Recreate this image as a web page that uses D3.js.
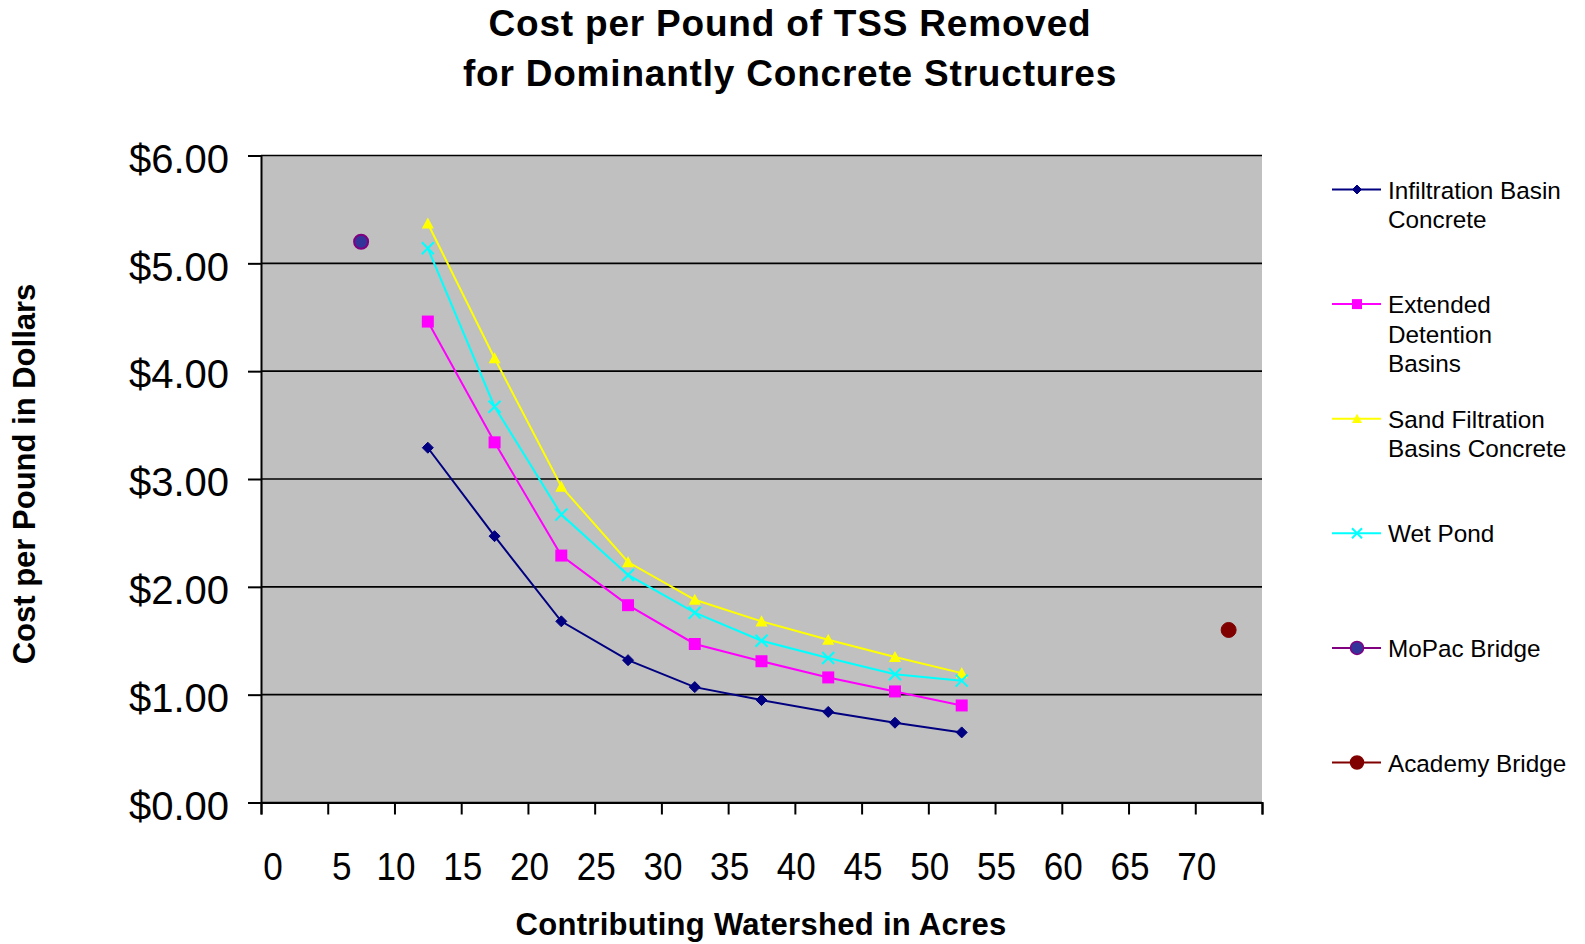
<!DOCTYPE html>
<html>
<head>
<meta charset="utf-8">
<script src="https://cdn.jsdelivr.net/npm/d3@7"></script>
<style>
  html, body { margin: 0; padding: 0; background: #ffffff; }
  svg { display: block; font-family: "Liberation Sans", Arial, sans-serif; }
</style>
</head>
<body>
<svg id="chart" width="1585" height="944"></svg>
<script>
// ---------------- data ----------------
const titleLines = ["Cost per Pound of TSS Removed", "for Dominantly Concrete Structures"];
const xTitle = "Contributing Watershed in Acres";
const yTitle = "Cost per Pound in Dollars";

const acres = [12.5, 17.5, 22.5, 27.5, 32.5, 37.5, 42.5, 47.5, 52.5];
const infiltrationBasin = [3.29, 2.47, 1.68, 1.32, 1.07, 0.95, 0.84, 0.74, 0.65];
const extendedDetention = [4.46, 3.34, 2.29, 1.83, 1.47, 1.31, 1.16, 1.03, 0.90];
const sandFiltration   = [5.37, 4.12, 2.93, 2.23, 1.88, 1.68, 1.51, 1.35, 1.20];
const wetPond          = [5.14, 3.67, 2.67, 2.11, 1.76, 1.50, 1.34, 1.19, 1.13];

const mopacAcres = [7.5];
const mopacCost = [5.20];
const academyAcres = [72.5];
const academyCost = [1.60];

const xTickValues = [0, 5, 10, 15, 20, 25, 30, 35, 40, 45, 50, 55, 60, 65, 70, 75];
const xTickLabels = ["0", "5", "10", "15", "20", "25", "30", "35", "40", "45", "50", "55", "60", "65", "70"];
const yTickValues = [0, 1, 2, 3, 4, 5, 6];

const seriesNames = ["Infiltration Basin|Concrete", "Extended|Detention|Basins", "Sand Filtration|Basins Concrete",
                     "Wet Pond", "MoPac Bridge", "Academy Bridge"];

// ---------------- layout ----------------
const svg = d3.select("#chart");
const plot = { left: 261, right: 1262, top: 155.5, bottom: 802.5 };

const x = d3.scaleLinear().domain([0, 75]).range([plot.left, plot.right]);
const y = d3.scaleLinear().domain([0, 6]).range([plot.bottom, plot.top]);

// plot background
svg.append("rect")
  .attr("x", plot.left).attr("y", plot.top)
  .attr("width", plot.right - plot.left).attr("height", plot.bottom - plot.top)
  .attr("fill", "#c0c0c0");

// gridlines
svg.append("g").selectAll("line").data(yTickValues).join("line")
  .attr("x1", plot.left).attr("x2", plot.right)
  .attr("y1", d => y(d)).attr("y2", d => y(d))
  .attr("stroke", "#000").attr("stroke-width", 1.6);

// y axis
const yAxis = d3.axisLeft(y).tickValues(yTickValues).tickSize(13).tickPadding(19)
  .tickFormat(d => "$" + d3.format(".2f")(d));
const yg = svg.append("g").attr("transform", `translate(${plot.left},0)`).call(yAxis);
yg.select(".domain").attr("stroke", "#000").attr("stroke-width", 2);
yg.selectAll(".tick line").attr("stroke", "#000").attr("stroke-width", 2);
yg.selectAll(".tick text")
  .attr("font-family", "'Liberation Sans', Arial, sans-serif")
  .attr("font-size", 40).attr("fill", "#000")
  .attr("dy", "0.42em");

// x axis
const xAxis = d3.axisBottom(x).tickValues(xTickValues).tickSize(12).tickFormat("");
const xg = svg.append("g").attr("transform", `translate(0,${plot.bottom})`).call(xAxis);
xg.select(".domain").attr("stroke", "#000").attr("stroke-width", 2);
xg.selectAll(".tick line").attr("stroke", "#000").attr("stroke-width", 2);

// x tick labels (first two are nudged right as in the original)
svg.append("g").selectAll("text").data(xTickLabels).join("text")
  .attr("transform", (d, i) => {
    const v = xTickValues[i];
    const dx = v === 0 ? 12 : (v === 5 ? 14 : 1.5);
    return `translate(${x(v) + dx},880) scale(0.9,1)`;
  })
  .attr("text-anchor", "middle")
  .attr("font-size", 39).attr("fill", "#000")
  .text(d => d);

// titles
svg.append("g").selectAll("text").data(titleLines).join("text")
  .attr("x", 790).attr("y", (d, i) => 36 + i * 50)
  .attr("text-anchor", "middle")
  .attr("font-size", 37).attr("font-weight", "bold").attr("letter-spacing", 0.8)
  .text(d => d);

svg.append("text")
  .attr("x", 761).attr("y", 935)
  .attr("text-anchor", "middle")
  .attr("font-size", 31).attr("font-weight", "bold").attr("letter-spacing", 0.3)
  .text(xTitle);

svg.append("text")
  .attr("transform", "translate(35,474) rotate(-90)")
  .attr("text-anchor", "middle")
  .attr("font-size", 31).attr("font-weight", "bold")
  .text(yTitle);

// ---------------- marker shapes ----------------
function diamondPath(s) { const h = s / 2; return `M0,${-h}L${h},0L0,${h}L${-h},0Z`; }
function squarePath(s) { const h = s / 2; return `M${-h},${-h}H${h}V${h}H${-h}Z`; }
function trianglePath(s) { const h = s / 2; return `M0,${-h}L${h},${h * 0.85}L${-h},${h * 0.85}Z`; }
function xPath(s) { const h = s / 2; return `M${-h},${-h}L${h},${h}M${h},${-h}L${-h},${h}`; }

const lineSeries = [
  { values: infiltrationBasin, color: "#000080", shape: "diamond" },
  { values: extendedDetention, color: "#ff00ff", shape: "square" },
  { values: sandFiltration, color: "#ffff00", shape: "triangle" },
  { values: wetPond, color: "#00ffff", shape: "x" }
];

function drawMarker(g, shape, color, size) {
  if (shape === "diamond") g.append("path").attr("d", diamondPath(size)).attr("fill", color).attr("stroke", color).attr("stroke-width", 1);
  else if (shape === "square") g.append("path").attr("d", squarePath(size)).attr("fill", color);
  else if (shape === "triangle") g.append("path").attr("d", trianglePath(size)).attr("fill", color);
  else if (shape === "x") g.append("path").attr("d", xPath(size)).attr("fill", "none").attr("stroke", color).attr("stroke-width", 2);
}

const lineGen = d3.line().x(d => x(d[0])).y(d => y(d[1]));

lineSeries.forEach(s => {
  const pts = acres.map((a, i) => [a, s.values[i]]);
  svg.append("path").datum(pts)
    .attr("d", lineGen)
    .attr("fill", "none").attr("stroke", s.color).attr("stroke-width", 2);
  const mg = svg.append("g");
  pts.forEach(p => {
    const g = mg.append("g").attr("transform", `translate(${x(p[0])},${y(p[1])})`);
    drawMarker(g, s.shape, s.color, s.shape === "diamond" ? 11 : 12);
  });
});

// bridge points
svg.append("g").selectAll("circle").data(mopacAcres).join("circle")
  .attr("cx", d => x(d)).attr("cy", (d, i) => y(mopacCost[i])).attr("r", 7)
  .attr("fill", "#333399").attr("stroke", "#800080").attr("stroke-width", 2);
svg.append("g").selectAll("circle").data(academyAcres).join("circle")
  .attr("cx", d => x(d)).attr("cy", (d, i) => y(academyCost[i])).attr("r", 7.5)
  .attr("fill", "#800000").attr("stroke", "#800000").attr("stroke-width", 1);

// ---------------- legend ----------------
const legendItems = [
  { color: "#000080", shape: "diamond" },
  { color: "#ff00ff", shape: "square" },
  { color: "#ffff00", shape: "triangle" },
  { color: "#00ffff", shape: "x" },
  { color: "#800080", shape: "circle", fill: "#333399" },
  { color: "#800000", shape: "circle", fill: "#800000" }
];
const legend = svg.append("g");
seriesNames.forEach((name, i) => {
  const cy = 189.5 + i * 114.6;
  const it = legendItems[i];
  const g = legend.append("g").attr("transform", `translate(0,${cy})`);
  g.append("line").attr("x1", 1332).attr("x2", 1381).attr("y1", 0).attr("y2", 0)
    .attr("stroke", it.color).attr("stroke-width", 2);
  const mg = g.append("g").attr("transform", "translate(1357,0)");
  if (it.shape === "circle") {
    mg.append("circle").attr("r", 6.5).attr("fill", it.fill).attr("stroke", it.color).attr("stroke-width", 1.5);
  } else {
    drawMarker(mg, it.shape, it.color, it.shape === "diamond" ? 9 : 10);
  }
  const t = g.append("text").attr("x", 1388).attr("y", 9)
    .attr("font-size", 24.3).attr("fill", "#000");
  name.split("|").forEach((ln, j) => {
    t.append("tspan").attr("x", 1388).attr("dy", j === 0 ? 0 : 29.5).text(ln);
  });
});
</script>
</body>
</html>
